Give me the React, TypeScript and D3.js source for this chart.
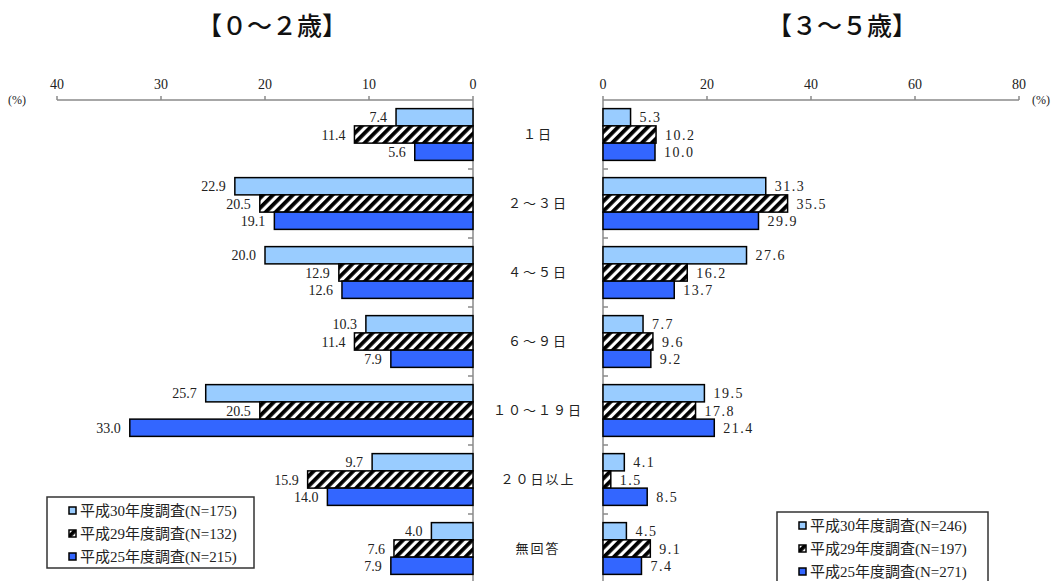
import * as d3 from 'd3';
import React from 'react';

const width = 1054;
const height = 581;

const categories = ['１日', '２～３日', '４～５日', '６～９日', '１０～１９日', '２０日以上', '無回答'];
const seriesKeys = ['h30', 'h29', 'h25'];

// 【0～2歳】
const infantH30 = [7.4, 22.9, 20.0, 10.3, 25.7, 9.7, 4.0];
const infantH29 = [11.4, 20.5, 12.9, 11.4, 20.5, 15.9, 7.6];
const infantH25 = [5.6, 19.1, 12.6, 7.9, 33.0, 14.0, 7.9];
const infantLegend = ['平成30年度調査(N=175)', '平成29年度調査(N=132)', '平成25年度調査(N=215)'];

// 【3～5歳】
const childH30 = [5.3, 31.3, 27.6, 7.7, 19.5, 4.1, 4.5];
const childH29 = [10.2, 35.5, 16.2, 9.6, 17.8, 1.5, 9.1];
const childH25 = [10.0, 29.9, 13.7, 9.2, 21.4, 8.5, 7.4];
const childLegend = ['平成30年度調査(N=246)', '平成29年度調査(N=197)', '平成25年度調査(N=271)'];

const leftTicks = [0, 10, 20, 30, 40];
const rightTicks = [0, 20, 40, 60, 80];

const fills: Record<string, string> = { h30: '#99ccff', h29: 'url(#hatch)', h25: '#3366ff' };
const axisGray = '#8a8a8a';
const serif = '"Liberation Serif", "DejaVu Serif", "Noto Sans CJK JP", serif';
const cjk = '"Liberation Serif", "Noto Sans CJK JP", serif';

const yScale = d3.scaleBand<string>().domain(categories).range([100, 583]).paddingInner(0.25).paddingOuter(0.125);
const subScale = d3.scaleBand<string>().domain(seriesKeys).range([0, yScale.bandwidth()]);
const xLeft = d3.scaleLinear().domain([0, 40]).range([473, 57]);
const xRight = d3.scaleLinear().domain([0, 80]).range([603, 1019]);

function Panel({ x, series, ticks, side }: { x: d3.ScaleLinear<number, number>; series: number[][]; ticks: number[]; side: 'left' | 'right' }) {
  const x0 = x(0);
  const dir = side === 'left' ? -1 : 1;
  const [a, b] = x.range();
  return (
    <g>
      {/* top axis */}
      <line x1={Math.min(a, b)} x2={Math.max(a, b)} y1={100} y2={100} stroke={axisGray} strokeWidth={1.5} />
      {ticks.map(t => (
        <g key={t}>
          <line x1={x(t)} x2={x(t)} y1={96} y2={100} stroke={axisGray} strokeWidth={1.5} />
          <text x={x(t)} y={89} textAnchor="middle" fontSize={14} fontFamily={serif} fill="#222">{t}</text>
        </g>
      ))}
      {/* category axis */}
      <line x1={x0} x2={x0} y1={100} y2={height} stroke={axisGray} strokeWidth={1.5} />
      {categories.slice(1).map(c => {
        const yy = (yScale(c) as number) - (yScale.step() * yScale.paddingInner()) / 2;
        return <line key={c} x1={x0} x2={x0 + dir * 5} y1={yy} y2={yy} stroke={axisGray} strokeWidth={1.5} />;
      })}
      {/* bars */}
      {seriesKeys.map((k, si) =>
        categories.map((c, ci) => {
          const v = series[si][ci];
          const y0 = (yScale(c) as number) + (subScale(k) as number);
          const h = subScale.bandwidth();
          const xe = x(v);
          return (
            <g key={k + c}>
              <rect x={Math.min(x0, xe)} y={y0} width={Math.abs(xe - x0)} height={h} fill={fills[k]} stroke="#000" strokeWidth={1.5} />
              <text
                x={xe + dir * 9}
                y={y0 + h / 2}
                dy="0.36em"
                textAnchor={side === 'left' ? 'end' : 'start'}
                fontSize={14}
                letterSpacing={side === 'right' ? 1.5 : 0}
                fontFamily={serif}
                fill="#222"
              >
                {v.toFixed(1)}
              </text>
            </g>
          );
        })
      )}
    </g>
  );
}

function Legend({ x, y, w, h, labels }: { x: number; y: number; w: number; h: number; labels: string[] }) {
  return (
    <g transform={`translate(${x},${y})`}>
      <rect x={0} y={0} width={w} height={h} fill="#fff" stroke="#333" strokeWidth={1.5} />
      {labels.map((l, i) => (
        <g key={l} transform={`translate(22,${14 + i * 23})`}>
          <rect x={0} y={-4} width={7} height={7} fill={fills[seriesKeys[i]]} stroke="#000" strokeWidth={1.5} />
          <text x={11} y={0} dy="0.36em" fontSize={15} fontFamily={cjk} fill="#222">{l}</text>
        </g>
      ))}
    </g>
  );
}

export default function App() {
  return (
    <div style={{ position: 'absolute', left: 0, top: 0 }}>
      <svg width={width} height={height} style={{ display: 'block', background: '#fff' }}>
        <defs>
          <pattern id="hatch" width={7} height={7} patternUnits="userSpaceOnUse" patternTransform="rotate(45)">
            <rect width={7} height={7} fill="#fff" />
            <rect width={3.8} height={7} fill="#000" />
          </pattern>
        </defs>
        <text x={272} y={26} dy="0.36em" textAnchor="middle" fontSize={25} fontWeight={500} fontFamily='"Noto Sans CJK JP", sans-serif' fill="#111">【０～２歳】</text>
        <text x={842} y={26} dy="0.36em" textAnchor="middle" fontSize={25} fontWeight={500} fontFamily='"Noto Sans CJK JP", sans-serif' fill="#111">【３～５歳】</text>
        <text x={8} y={104} fontSize={12} fontFamily={serif} fill="#222">(%)</text>
        <text x={1032} y={104} fontSize={12} fontFamily={serif} fill="#222">(%)</text>
        <Panel x={xLeft} series={[infantH30, infantH29, infantH25]} ticks={leftTicks} side="left" />
        <Panel x={xRight} series={[childH30, childH29, childH25]} ticks={rightTicks} side="right" />
        {categories.map(c => (
          <text key={c} x={538} y={(yScale(c) as number) + yScale.bandwidth() / 2} dy="0.36em" textAnchor="middle" fontSize={13} letterSpacing={2} fontFamily={cjk} fill="#222">
            {c}
          </text>
        ))}
        <Legend x={47} y={497} w={207} h={71} labels={infantLegend} />
        <Legend x={777} y={512} w={211} h={80} labels={childLegend} />
      </svg>
    </div>
  );
}
